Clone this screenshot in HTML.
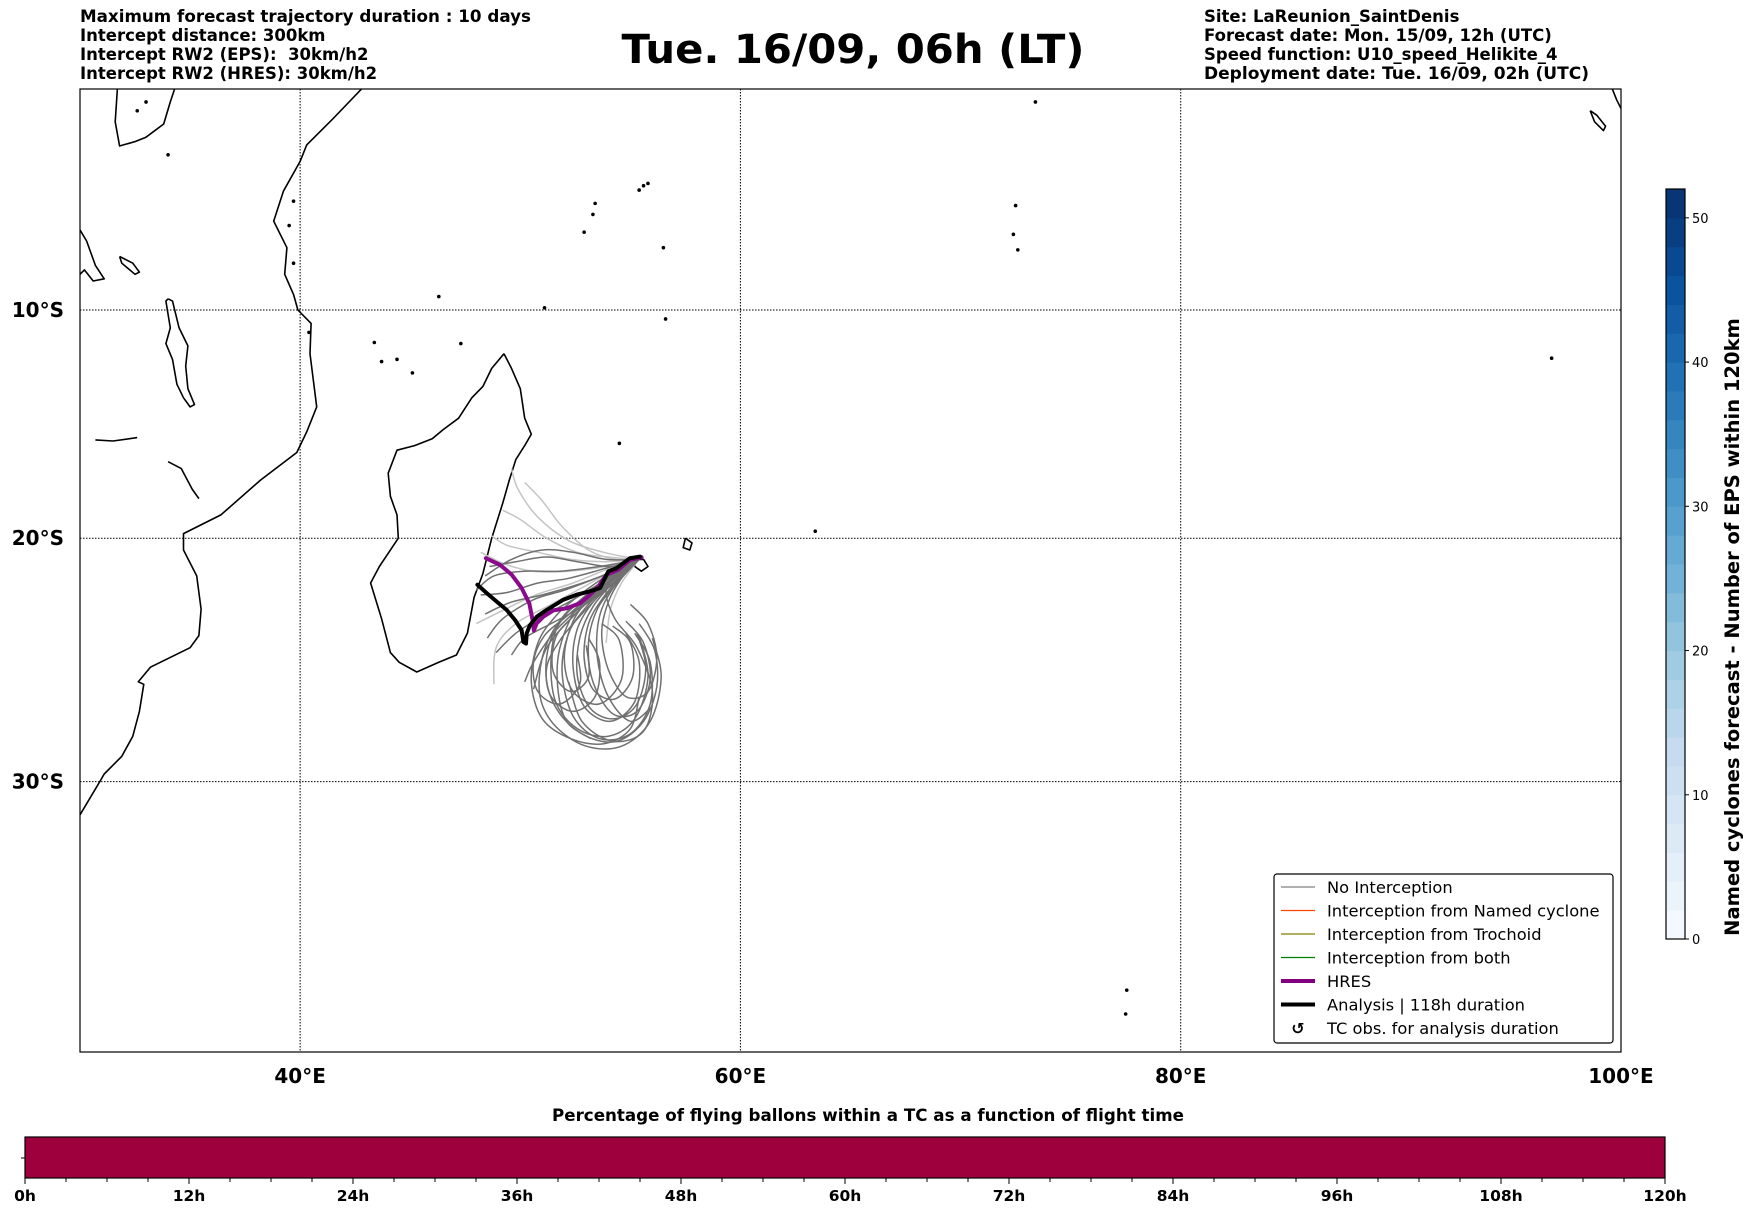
<!DOCTYPE html>
<html><head><meta charset="utf-8"><title>Trajectories</title>
<style>
html,body{margin:0;padding:0;background:#fff;}
svg{display:block;font-family:"DejaVu Sans","Liberation Sans",sans-serif;}
</style></head>
<body>
<svg id="fig" xmlns="http://www.w3.org/2000/svg" width="1752" height="1213" viewBox="0 0 1752 1213">
<rect width="1752" height="1213" fill="#fff"/>
<g font-weight="bold" font-size="16.5" fill="#000" style="white-space:pre">
<text x="80" y="22" textLength="451" lengthAdjust="spacingAndGlyphs">Maximum forecast trajectory duration : 10 days</text>
<text x="80" y="41">Intercept distance: 300km</text>
<text x="80" y="60">Intercept RW2 (EPS):&#160; 30km/h2</text>
<text x="80" y="79">Intercept RW2 (HRES): 30km/h2</text>
</g>
<text x="853" y="63" text-anchor="middle" font-weight="bold" font-size="40" textLength="463" lengthAdjust="spacingAndGlyphs">Tue. 16/09, 06h (LT)</text>
<g font-weight="bold" font-size="16.5" fill="#000">
<text x="1204" y="22">Site: LaReunion_SaintDenis</text>
<text x="1204" y="41">Forecast date: Mon. 15/09, 12h (UTC)</text>
<text x="1204" y="60">Speed function: U10_speed_Helikite_4</text>
<text x="1204" y="79" textLength="385" lengthAdjust="spacingAndGlyphs">Deployment date: Tue. 16/09, 02h (UTC)</text>
</g>
<defs><clipPath id="mapclip"><rect x="80" y="89" width="1541" height="963"/></clipPath></defs>
<g id="map">
<g id="grid"></g>
<g id="coast" clip-path="url(#mapclip)"></g>
<g id="traj" clip-path="url(#mapclip)"></g>
<rect x="80" y="89" width="1541" height="963" fill="none" stroke="#000" stroke-width="1.2"/>
</g>
<g id="axlabels" font-weight="bold" font-size="20"></g>
<g id="legend"></g>
<g id="cbar"></g>
<g id="tbar"></g>
</svg>
<script>
const NS="http://www.w3.org/2000/svg";
// ---- data ----
const lonTicks=[40,60,80,100];
const lonTickLabels=["40°E","60°E","80°E","100°E"];
const latTicks=[-10,-20,-30];
const latTickLabels=["10°S","20°S","30°S"];
const cbarTicks=[0,10,20,30,40,50];
const cbarMax=52;
const timeTicks=[0,12,24,36,48,60,72,84,96,108,120];
const timeTickLabels=["0h","12h","24h","36h","48h","60h","72h","84h","96h","108h","120h"];
const timePercent=[100];
const africaCoast=[[42.8,0],[41.5,-1.35],[40.9,-1.95],[40.3,-2.55],[40,-3.3],[39.24,-4.65],[38.8,-6.0],[39.4,-7.2],[39.3,-8.4],[39.7,-9.3],[39.9,-10.0],[40.5,-10.6],[40.45,-11.95],[40.75,-14.3],[40.3,-15.4],[39.85,-16.3],[38.2,-17.5],[36.4,-19],[34.7,-19.8],[34.7,-20.5],[35.3,-21.6],[35.5,-23],[35.4,-24.1],[35,-24.6],[33.2,-25.4],[32.65,-26],[32.9,-26.1],[32.7,-27.2],[32.4,-28.2],[31.9,-29],[31.1,-29.7],[30.9,-30],[30,-31.3]];
const madagascar=[[49.26,-11.95],[49.6,-12.6],[50.0,-13.5],[50.2,-14.8],[50.5,-15.5],[50.2,-16],[49.8,-16.6],[49.5,-17.5],[49.2,-18.5],[48.7,-20],[48.3,-21.5],[47.9,-22.5],[47.6,-24],[47.1,-24.9],[46.3,-25.2],[45.3,-25.6],[44.5,-25.2],[44.1,-24.8],[43.7,-23.4],[43.2,-21.9],[43.6,-21.2],[44.46,-20],[44.4,-19],[44.1,-18.2],[44.0,-17.2],[44.4,-16.2],[45.2,-16],[46,-15.7],[46.5,-15.3],[47.2,-14.8],[47.8,-13.9],[48.3,-13.4],[48.7,-12.6],[49.26,-11.95]];
const lakeVictoria=[[31.7,0],[31.6,-1.5],[31.8,-2.6],[32.5,-2.4],[33,-2.2],[33.8,-1.6],[34.1,-0.6],[34.3,0]];
const lakeTanganyika=[[30,-6.4],[30.3,-6.9],[30.7,-8],[31.1,-8.6],[30.6,-8.7],[30.2,-8.2],[30,-8.4]];
const lakeMalawi=[[34,-9.5],[34.2,-9.6],[34.5,-10.8],[34.9,-11.6],[34.8,-12.5],[34.9,-13.5],[35.2,-14.2],[35,-14.3],[34.7,-13.9],[34.4,-13.3],[34.2,-12.2],[33.9,-11.5],[34.1,-10.8],[33.9,-9.6],[34,-9.5]];
const lakeRukwa=[[31.8,-7.6],[32.4,-7.9],[32.7,-8.3],[32.5,-8.4],[31.9,-7.9],[31.8,-7.6]];
const lakeKariba=[[30.7,-15.75],[31.5,-15.8],[32.6,-15.65]];
const cahoraBassa=[[34.0,-16.7],[34.6,-17.0],[35.1,-17.9],[35.4,-18.3]];
const reunion=[[55.2,-20.9],[55.6,-20.9],[55.8,-21.2],[55.5,-21.4],[55.2,-21.2],[55.2,-20.9]];
const mauritius=[[57.5,-20.0],[57.8,-20.2],[57.7,-20.5],[57.4,-20.4],[57.5,-20.0]];
const siberut=[[98.6,-1.0],[98.9,-1.2],[99.3,-1.7],[99.2,-1.9],[98.8,-1.5],[98.6,-1.0]];
const sumatra=[[99.6,0],[99.8,-0.5],[100,-0.9]];
const islands=[[43.37,-11.45],[43.7,-12.3],[44.4,-12.2],[45.1,-12.8],[46.3,-9.4],[47.3,-11.5],[51.1,-9.9],[55.4,-4.6],[55.6,-4.4],[55.8,-4.3],[53.4,-5.2],[53.3,-5.7],[52.9,-6.5],[56.5,-7.2],[56.6,-10.4],[54.5,-15.9],[63.4,-19.7],[72.5,-5.3],[72.4,-6.6],[72.6,-7.3],[73.4,-0.6],[96.85,-12.15],[77.55,-37.85],[77.5,-38.7],[39.7,-5.1],[39.5,-6.2],[39.7,-7.9],[40.4,-11],[34.0,-3.0],[33.0,-0.6],[32.6,-1.0]];
const analysisTrack=[[55.44,-20.78],[54.98,-20.85],[54.38,-21.27],[54.0,-21.41],[53.85,-21.69],[53.62,-22.11],[53.17,-22.25],[52.56,-22.39],[51.96,-22.6],[51.2,-23.03],[50.75,-23.31],[50.44,-23.66],[50.29,-24.0],[50.26,-24.43],[50.14,-24.36],[50.06,-23.87],[49.76,-23.45],[49.38,-23.03],[48.93,-22.68],[48.47,-22.32],[48.05,-21.97]];
const hresTrack=[[55.51,-20.81],[54.98,-20.92],[54.45,-21.34],[53.92,-21.55],[53.55,-22.04],[53.09,-22.46],[52.71,-22.75],[52.11,-22.96],[51.5,-23.05],[51.05,-23.31],[50.74,-23.59],[50.62,-23.89],[50.56,-23.45],[50.41,-22.75],[50.06,-22.11],[49.61,-21.55],[49.08,-21.13],[48.44,-20.85]];
const loopTracks=[
[[55.4,-20.9],[54.3,-21.5],[53,-22.4],[52,-23.3],[51.3,-24.5],[51.2,-26],[51.8,-27.3],[53,-28.2],[54.4,-28.4],[55.6,-27.6],[56.2,-26.2],[56.1,-24.7],[55.4,-23.6]],
[[55.4,-20.9],[54.1,-21.6],[52.8,-22.6],[51.7,-23.6],[51,-25],[50.9,-26.6],[51.6,-27.8],[53,-28.6],[54.6,-28.6],[55.9,-27.6],[56.4,-25.8],[56,-24.2]],
[[55.4,-20.9],[54.2,-21.7],[53.2,-22.5],[52.4,-23.5],[52,-25],[52.4,-26.4],[53.6,-26.9],[54.6,-25.9],[54.5,-24.3],[53.7,-23.6]],
[[55.4,-20.9],[54.4,-21.8],[53.4,-22.6],[52.6,-23.8],[52.4,-25.4],[52.9,-27],[54.1,-27.6],[55.2,-26.8],[55.4,-25.2],[54.8,-24]],
[[55.4,-20.9],[54.2,-21.5],[52.9,-22.5],[51.8,-23.5],[51.4,-25],[51.6,-26.8],[52.6,-27.9],[54,-28.2],[55.2,-27.5],[55.8,-25.8],[55.4,-24.1]],
[[55.4,-20.9],[54.4,-21.6],[53.4,-22.6],[52.6,-23.4],[51.8,-24.3],[51.2,-25.4],[51.4,-26.6],[52.4,-27.2],[53.4,-26.6],[53.6,-25.2],[53.1,-24.2]],
[[55.4,-20.9],[54.2,-21.8],[53,-22.9],[52.2,-24],[51.9,-25.6],[52.4,-27.4],[53.6,-28.3],[55,-28.1],[55.9,-26.9],[55.9,-25.2],[55.2,-24]],
[[55.4,-20.9],[54.5,-21.7],[53.7,-22.6],[53.1,-23.6],[52.9,-25],[53.3,-26.3],[54.3,-26.7],[55.1,-25.8],[55,-24.4],[54.2,-23.7]],
[[55.4,-20.9],[54.3,-21.6],[53.1,-22.5],[52.1,-23.3],[51.1,-24.1],[50.6,-25.2],[50.8,-26.4],[51.8,-26.9],[52.7,-26.1],[52.6,-24.9]],
[[55.4,-20.9],[54.4,-21.9],[53.5,-23],[53.1,-24.4],[53.3,-26],[54.2,-27.3],[55.3,-27.2],[55.9,-25.9],[55.6,-24.4],[54.8,-23.5]],
[[55.4,-20.9],[54.1,-21.5],[52.7,-22.4],[51.6,-23.3],[50.8,-24.4],[50.5,-26],[51,-27.5],[52.3,-28.3],[53.8,-28.5],[55,-27.9],[55.4,-26.6]],
[[55.4,-20.9],[54.3,-21.8],[53.3,-22.9],[52.7,-24.2],[52.6,-25.8],[53.2,-27.1],[54.3,-27.5],[55.3,-26.9],[55.7,-25.4],[55.3,-24]],
[[55.4,-20.9],[54.4,-21.6],[53.3,-22.5],[52.4,-23.3],[51.6,-24.2],[51.5,-25.6],[52.3,-26.4],[53.1,-25.8],[53,-24.5]],
[[55.4,-20.9],[54.6,-21.7],[54,-22.7],[53.7,-24],[54,-25.5],[54.8,-26.6],[55.8,-26.4],[56.2,-25],[55.8,-23.6],[55,-22.8]],
[[55.4,-20.9],[54.5,-21.4],[53.9,-22.2],[54.3,-23.4],[55.3,-24.6],[56.0,-26.4],[55.6,-28.0],[54.2,-28.4],[52.8,-27.6],[52.2,-26]],
[[55.4,-20.9],[54.0,-21.7],[52.6,-22.9],[51.8,-24.6],[51.7,-26.2],[52.1,-27.6],[53.2,-28.3]],
[[55.4,-20.9],[54.3,-22],[53.6,-23.3],[53.5,-25.0],[54.0,-26.6],[55.0,-27.6],[56.0,-27.0]]
];
const westTracks=[
[[55.4,-20.9],[54,-21.5],[52.5,-22],[51,-22.4],[49.6,-22.7],[48.4,-23.2]],
[[55.4,-20.9],[53.8,-21.3],[52.2,-21.7],[50.8,-21.9],[49.4,-22.3],[48.2,-22.4]],
[[55.4,-20.9],[54,-21.7],[52.4,-22.6],[51,-23.3],[49.8,-24],[48.9,-24.8]],
[[55.4,-20.9],[53.6,-21.2],[51.8,-21.4],[50.2,-21.4],[48.8,-21.6],[48.0,-22.2]],
[[55.4,-20.9],[54.2,-21.9],[52.8,-22.9],[51.4,-23.6],[50.2,-24.2],[49.6,-24.9]],
[[55.4,-20.9],[53.7,-21.6],[52,-22.2],[50.6,-22.6],[49.2,-23.4],[48.5,-24.2]],
[[55.4,-20.9],[54.1,-21.2],[52.6,-21.0],[51.2,-20.8],[49.8,-21.0],[48.6,-21.2]],
[[55.4,-20.9],[53.9,-21.8],[52.6,-23],[51.5,-24],[50.6,-25.2],[50.2,-26]],
[[55.4,-20.9],[53.9,-20.9],[52.4,-20.6],[51.0,-20.5],[49.6,-20.9],[48.4,-21.6]],
[[55.4,-20.9],[54.0,-21.9],[52.5,-23.2],[51.2,-24.6],[50.6,-26.3]]
];
const lightTracks=[
[[55.4,-20.9],[53.8,-20.6],[52.2,-20.1],[50.8,-19.1],[49.9,-17.9],[49.6,-17.0]],
[[55.4,-20.9],[54,-20.8],[52.6,-20.6],[51.2,-20],[50,-19.2],[49.2,-18.8]],
[[55.4,-20.9],[53.9,-21.0],[52.3,-20.9],[50.8,-20.6],[49.4,-20.3],[48.7,-19.9]],
[[55.4,-20.9],[54.2,-21.4],[52.6,-22.2],[51.2,-22.9],[49.8,-23.6],[48.9,-24.6],[48.8,-26.1]],
[[55.4,-20.9],[54,-21.3],[52.4,-21.9],[50.7,-22.4],[49.1,-23.1],[48.0,-23.6]],
[[55.4,-20.9],[54.3,-20.9],[53.1,-20.5],[51.9,-19.5],[51.0,-18.4],[50.2,-17.6]],
[[55.4,-20.9],[53.9,-21.2],[52.2,-21.4],[50.6,-21.4],[49.3,-21.1],[48.2,-20.6]],
[[55.4,-20.9],[54.6,-21.9],[54.1,-23],[53.9,-24.4]]
];
// ---- projection ----
const X0=80, PXD=22.014, Y10=310, R=PXD*180/Math.PI;
function merc(lat){return Math.log(Math.tan(Math.PI/4+Math.abs(lat)*Math.PI/360));}
function xs(lon){return X0+(lon-30)*PXD;}
function ys(lat){return Y10+(merc(lat)-merc(-10))*R;}
function mk(tag,attrs,parent){const e=document.createElementNS(NS,tag);for(const k in attrs)e.setAttribute(k,attrs[k]);parent.appendChild(e);return e;}
function lineD(pts){return pts.map((p,i)=>(i?'L':'M')+xs(p[0]).toFixed(1)+' '+ys(p[1]).toFixed(1)).join(' ');}
function smoothD(pts){
  const P=pts.map(p=>[xs(p[0]),ys(p[1])]);
  let d='M'+P[0][0].toFixed(1)+' '+P[0][1].toFixed(1);
  for(let i=0;i<P.length-1;i++){
    const p0=P[Math.max(0,i-1)],p1=P[i],p2=P[i+1],p3=P[Math.min(P.length-1,i+2)];
    const c1=[p1[0]+(p2[0]-p0[0])/6,p1[1]+(p2[1]-p0[1])/6];
    const c2=[p2[0]-(p3[0]-p1[0])/6,p2[1]-(p3[1]-p1[1])/6];
    d+=' C'+c1[0].toFixed(1)+' '+c1[1].toFixed(1)+' '+c2[0].toFixed(1)+' '+c2[1].toFixed(1)+' '+p2[0].toFixed(1)+' '+p2[1].toFixed(1);
  }
  return d;
}
// grid
const grid=document.getElementById('grid');
lonTicks.slice(0,3).forEach(l=>{
  const e=mk('line',{x1:xs(l),x2:xs(l),y1:89,y2:1052,stroke:'#000','stroke-width':1,'stroke-dasharray':'1.5 1.5'},grid);
  
  
});
latTicks.forEach(l=>{
  const e=mk('line',{x1:80,x2:1621,y1:ys(l),y2:ys(l),stroke:'#000','stroke-width':1,'stroke-dasharray':'1.5 1.5'},grid);
  
  
});
// coast
const coast=document.getElementById('coast');
[africaCoast,madagascar,lakeVictoria,lakeTanganyika,lakeMalawi,lakeRukwa,lakeKariba,cahoraBassa,reunion,mauritius,siberut,sumatra].forEach(c=>{
  const e=mk('path',{d:lineD(c),fill:'none',stroke:'#000','stroke-width':1.6,'stroke-linejoin':'round'},coast);
  
  
});
islands.forEach(p=>{
  const e=mk('circle',{cx:xs(p[0]),cy:ys(p[1]),r:1.8,fill:'#000'},coast);
  
  
});
// trajectories
const traj=document.getElementById('traj');
lightTracks.forEach(t=>{
  const e=mk('path',{d:smoothD(t),fill:'none',stroke:'#c4c4c4','stroke-width':1.5},traj);
  
  
});
westTracks.concat(loopTracks).forEach(t=>{
  const e=mk('path',{d:smoothD(t),fill:'none',stroke:'#707070','stroke-width':1.5},traj);
  
  
});
{
  const e=mk('path',{d:lineD(hresTrack),fill:'none',stroke:'#8b0a8b','stroke-width':4,'stroke-linejoin':'round','stroke-linecap':'round'},traj);
  
  
  const a=mk('path',{d:lineD(analysisTrack),fill:'none',stroke:'#000','stroke-width':4,'stroke-linejoin':'round','stroke-linecap':'round'},traj);
  
  
}
// axis labels
const axl=document.getElementById('axlabels');
latTicks.forEach((l,i)=>{
  const t=mk('text',{x:64,y:ys(l)+7,'text-anchor':'end'},axl);t.textContent=latTickLabels[i];
  
  
});
lonTicks.forEach((l,i)=>{
  const t=mk('text',{x:xs(l),y:1083,'text-anchor':'middle'},axl);t.textContent=lonTickLabels[i];
  
  
});
// legend
const lg=document.getElementById('legend');
mk('rect',{x:1274,y:874,width:339,height:169,rx:3,fill:'#fff',stroke:'#000','stroke-width':1.2},lg);
const legItems=[["No Interception","#808080",1.2],["Interception from Named cyclone","#ff4500",1.2],["Interception from Trochoid","#808000",1.2],["Interception from both","#008000",1.2],["HRES","#800080",4],["Analysis | 118h duration","#000",4],["TC obs. for analysis duration",null,0]];
legItems.forEach((it,i)=>{
  const cy=887+i*23.5;
  if(it[1]){const l=mk('line',{x1:1281,x2:1315,y1:cy,y2:cy,stroke:it[1],'stroke-width':it[2]},lg);
    
    }
  else{const s=mk('text',{x:1298,y:cy+6,'text-anchor':'middle','font-size':16,'font-weight':'bold'},lg);s.textContent='↺';
    
    }
  const t=mk('text',{x:1327,y:cy+6,'font-size':16.3},lg);t.textContent=it[0];
  
  
});
// right colorbar
const cb=document.getElementById('cbar');
const CB0=939, CB1=189;
function cy(v){return CB0-(CB0-CB1)*v/cbarMax;}
const blues=[[247,251,255],[222,235,247],[198,219,239],[158,202,225],[107,174,214],[66,146,198],[33,113,181],[8,81,156],[8,48,107]];
function blue(f){const s=f*(blues.length-1),i=Math.min(blues.length-2,Math.floor(s)),t=s-i;return 'rgb('+blues[i].map((c,k)=>Math.round(c+(blues[i+1][k]-c)*t)).join(',')+')';}
for(let v=0;v<cbarMax;v+=2){
  const r=mk('rect',{x:1666,y:cy(v+2),width:19,height:cy(v)-cy(v+2)+0.5,fill:blue((v+1)/cbarMax)},cb);
  
  
}
mk('rect',{x:1666,y:CB1,width:19,height:CB0-CB1,fill:'none',stroke:'#000','stroke-width':1.2},cb);
cbarTicks.forEach(v=>{
  mk('line',{x1:1685,x2:1689,y1:cy(v),y2:cy(v),stroke:'#000'},cb);
  const t=mk('text',{x:1692,y:cy(v)+5,'font-size':13},cb);t.textContent=v;
  
  
});
{const t=mk('text',{x:0,y:0,'font-size':19.5,'font-weight':'bold','text-anchor':'middle',transform:'translate(1739,627) rotate(-90)'},cb);
t.textContent='Named cyclones forecast - Number of EPS within 120km';

}
// time colorbar
const tb=document.getElementById('tbar');
const T0=25,T1=1665;
function tx(h){return T0+(T1-T0)*h/120;}
{const t=mk('text',{x:868,y:1121,'text-anchor':'middle','font-size':16.5,'font-weight':'bold',textLength:632,lengthAdjust:'spacingAndGlyphs'},tb);
t.textContent='Percentage of flying ballons within a TC as a function of flight time';

}
timePercent.forEach(p=>{
  const r=mk('rect',{x:T0,y:1137,width:T1-T0,height:41,fill:p>=100?'#9e003d':'#5e4fa2'},tb);
  
  
});
mk('rect',{x:T0,y:1137,width:T1-T0,height:41,fill:'none',stroke:'#000','stroke-width':1.2},tb);
mk('line',{x1:21,x2:25,y1:1158,y2:1158,stroke:'#000'},tb);
for(let h=0;h<=120;h+=3){mk('line',{x1:tx(h),x2:tx(h),y1:1178,y2:h%12?1182:1184,stroke:'#000'},tb);}
timeTicks.forEach((h,i)=>{
  const t=mk('text',{x:tx(h),y:1201,'text-anchor':'middle','font-size':15.5,'font-weight':'bold'},tb);t.textContent=timeTickLabels[i];
  
  
});
</script>
</body></html>
